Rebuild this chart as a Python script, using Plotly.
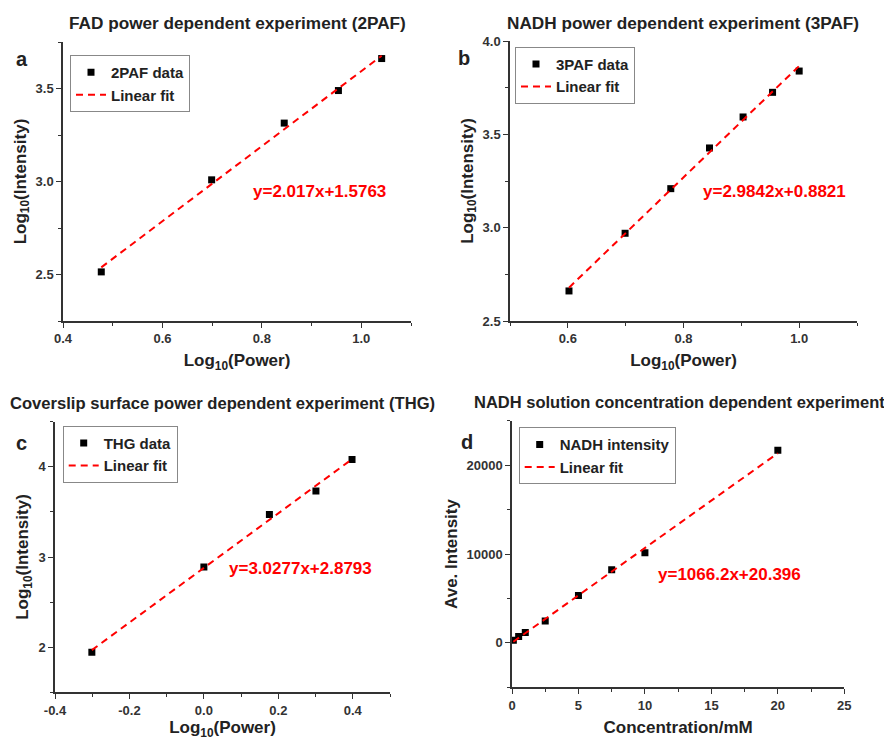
import plotly.graph_objects as go
import numpy as np

# ---------------- data ----------------
a_x = [0.477, 0.699, 0.845, 0.954, 1.041]
a_y = [2.514, 3.009, 3.314, 3.489, 3.661]
a_fit = (2.017, 1.5763)

b_x = [0.602, 0.699, 0.778, 0.845, 0.903, 0.954, 1.000]
b_y = [2.661, 2.970, 3.209, 3.427, 3.593, 3.725, 3.839]
b_fit = (2.9842, 0.8821)

c_x = [-0.301, 0.0, 0.176, 0.301, 0.398]
c_y = [1.944, 2.889, 3.471, 3.733, 4.082]
c_fit = (3.0277, 2.8793)

d_x = [0.1, 0.5, 1.0, 2.5, 5.0, 7.5, 10.0, 20.0]
d_y = [300, 720, 1170, 2460, 5330, 8220, 10130, 21670]
d_fit = (1066.2, 20.396)

titles = ["FAD power dependent experiment (2PAF)",
          "NADH power dependent experiment (3PAF)",
          "Coverslip surface power dependent experiment (THG)",
          "NADH solution concentration dependent experiment"]
data_names = ["2PAF data", "3PAF data", "THG data", "NADH intensity"]
equations = ["y=2.017x+1.5763", "y=2.9842x+0.8821", "y=3.0277x+2.8793", "y=1066.2x+20.396"]
panel_labels = ["a", "b", "c", "d"]
x_titles = ["Log<sub>10</sub>(Power)", "Log<sub>10</sub>(Power)", "Log<sub>10</sub>(Power)", "Concentration/mM"]
y_titles = ["Log<sub>10</sub>(Intensity)", "Log<sub>10</sub>(Intensity)", "Log<sub>10</sub>(Intensity)", "Ave. Intensity"]

a_xticks = [0.4, 0.6, 0.8, 1.0]
a_yticks = [2.5, 3.0, 3.5]
b_xticks = [0.6, 0.8, 1.0]
b_yticks = [2.5, 3.0, 3.5, 4.0]
c_xticks = [-0.4, -0.2, 0.0, 0.2, 0.4]
c_yticks = [2, 3, 4]
d_xticks = [0, 5, 10, 15, 20, 25]
d_yticks = [0, 10000, 20000]

FONT = "Arial, Liberation Sans, sans-serif"

panels = [
    dict(x=a_x, y=a_y, fit=a_fit, xt=a_xticks, yt=a_yticks, xfmt="{:.1f}", yfmt="{:.1f}",
         xdom=[63/884, 411/884], ydom=[1-321/740, 1-42/740],
         xr=[0.4, 1.1], xmd=0.1, yr=[2.25, 3.75], ymd=0.25,
         eq=(0.915, 2.945), leg=(70/884, 1-55/740),
         lab=(22/884, 1-59/740), title=(237/884, 1-23/740), tsize=17.2),
    dict(x=b_x, y=b_y, fit=b_fit, xt=b_xticks, yt=b_yticks, xfmt="{:.1f}", yfmt="{:.1f}",
         xdom=[510/884, 857/884], ydom=[1-321/740, 1-41/740],
         xr=[0.5, 1.1], xmd=0.1, yr=[2.5, 4.0], ymd=0.25,
         eq=(0.958, 3.193), leg=(515/884, 1-46.7/740),
         lab=(464/884, 1-58/740), title=(683/884, 1-23/740), tsize=17.2),
    dict(x=c_x, y=c_y, fit=c_fit, xt=c_xticks, yt=c_yticks, xfmt="{:.1f}", yfmt="{:.0f}",
         xdom=[55/884, 390/884], ydom=[1-692.3/740, 1-421.7/740],
         xr=[-0.4, 0.5], xmd=0.1, yr=[1.5, 4.5], ymd=0.5,
         eq=(0.26, 2.871), leg=(62.7/884, 1-425.7/740),
         lab=(21/884, 1-443/740), title=(222/884, 1-403/740), tsize=16.6),
    dict(x=d_x, y=d_y, fit=d_fit, xt=d_xticks, yt=d_yticks, xfmt="{:.0f}", yfmt="{:.0f}",
         xdom=[512/884, 844.3/884], ydom=[1-687.3/740, 1-420.7/740],
         xr=[0, 25], xmd=2.5, yr=[-5000, 25000], ymd=5000,
         eq=(16.35, 7736), leg=(518.7/884, 1-427.3/740),
         lab=(467/884, 1-442/740), title=(679/884, 1-402/740), tsize=16.5),
]

fig = go.Figure()
annotations = []
layout = dict(width=884, height=740, margin=dict(l=0, r=0, t=0, b=0, autoexpand=False),
              paper_bgcolor="white", plot_bgcolor="white",
              font=dict(family=FONT, color="#222"))

for i, p in enumerate(panels):
    n = i + 1
    xa = "x" if n == 1 else f"x{n}"
    ya = "y" if n == 1 else f"y{n}"
    legname = "legend" if n == 1 else f"legend{n}"
    xs = np.array(p["x"])
    fx = np.array([xs.min(), xs.max()])
    fy = p["fit"][0] * fx + p["fit"][1]
    fig.add_trace(go.Scatter(x=p["x"], y=p["y"], mode="markers", name=data_names[i],
                             marker=dict(symbol="square", size=7, color="black"),
                             xaxis=xa, yaxis=ya, legend=legname))
    fig.add_trace(go.Scatter(x=fx, y=fy, mode="lines", name="Linear fit",
                             line=dict(color="red", width=2, dash="7px,5px"),
                             xaxis=xa, yaxis=ya, legend=legname))
    common = dict(showline=True, linecolor="#333", linewidth=1.5, ticks="outside",
                  ticklen=5, tickwidth=1.2, tickcolor="#333", showgrid=False, zeroline=False,
                  automargin=False,
                  tickfont=dict(family=FONT, size=13, color="#333"),
                  title_font=dict(family=FONT, size=17, color="#222"))
    layout["xaxis" if n == 1 else f"xaxis{n}"] = dict(
        common, domain=p["xdom"], range=p["xr"], anchor=ya,
        tickvals=p["xt"], ticktext=["<b>" + p["xfmt"].format(v) + "</b>" for v in p["xt"]],
        minor=dict(dtick=p["xmd"], tick0=p["xt"][0], ticks="outside", ticklen=3, tickcolor="#333"),
        title=dict(text="<b>" + x_titles[i] + "</b>", standoff=9))
    layout["yaxis" if n == 1 else f"yaxis{n}"] = dict(
        common, domain=p["ydom"], range=p["yr"], anchor=xa,
        tickvals=p["yt"], ticktext=["<b>" + p["yfmt"].format(v) + "</b>" for v in p["yt"]],
        minor=dict(dtick=p["ymd"], tick0=p["yt"][0], ticks="outside", ticklen=3, tickcolor="#333"),
        title=dict(text="<b>" + y_titles[i] + "</b>", standoff=5))
    layout[legname] = dict(x=p["leg"][0], y=p["leg"][1], xanchor="left", yanchor="top",
                           bgcolor="white", bordercolor="#888", borderwidth=1,
                           font=dict(family=FONT, size=15, color="#222", weight="bold"),
                           itemwidth=30, tracegroupgap=0)
    annotations.append(dict(text="<b>" + equations[i] + "</b>", x=p["eq"][0], y=p["eq"][1],
                            xref=xa, yref=ya, showarrow=False, xanchor="center", yanchor="middle",
                            font=dict(family=FONT, size=17, color="red")))
    annotations.append(dict(text="<b>" + panel_labels[i] + "</b>", x=p["lab"][0], y=p["lab"][1],
                            xref="paper", yref="paper", showarrow=False, xanchor="center",
                            yanchor="middle", font=dict(family=FONT, size=20, color="#222")))
    annotations.append(dict(text="<b>" + titles[i] + "</b>", x=p["title"][0], y=p["title"][1],
                            xref="paper", yref="paper", showarrow=False, xanchor="center",
                            yanchor="middle", font=dict(family=FONT, size=p["tsize"], color="#222")))

layout["annotations"] = annotations
fig.update_layout(**layout)
fig.write_html("out.html", config={"displayModeBar": False},
               post_script="document.body.style.margin='0';document.body.style.overflow='hidden';")
